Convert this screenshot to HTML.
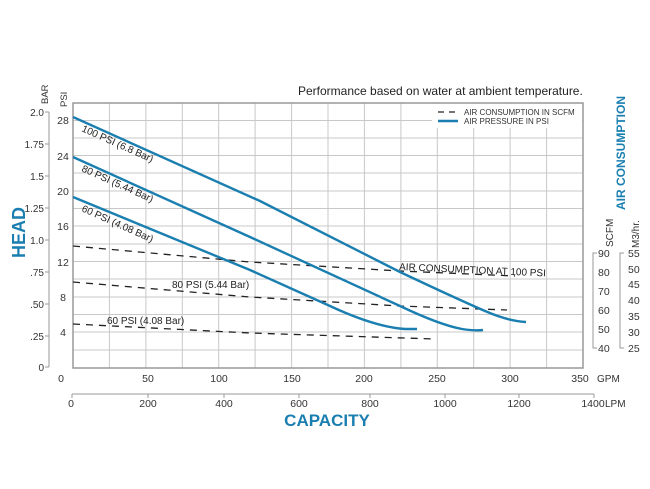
<!DOCTYPE html>
<html><head><style>
html,body{margin:0;padding:0;background:#fff;}
svg{display:block;font-family:"Liberation Sans",Arial,sans-serif;}
</style></head><body>
<svg width="650" height="489" viewBox="0 0 650 489" xmlns="http://www.w3.org/2000/svg">
<rect width="650" height="489" fill="#fff"/>
<text x="298" y="95" font-size="12" fill="#222">Performance based on water at ambient temperature.</text>
<!-- grid -->
<g stroke="#c8c8c8" stroke-width="1">
<line x1="109.4" y1="103" x2="109.4" y2="368"/><line x1="145.9" y1="103" x2="145.9" y2="368"/>
<line x1="182.3" y1="103" x2="182.3" y2="368"/><line x1="218.7" y1="103" x2="218.7" y2="368"/>
<line x1="255.1" y1="103" x2="255.1" y2="368"/><line x1="291.6" y1="103" x2="291.6" y2="368"/>
<line x1="328" y1="103" x2="328" y2="368"/><line x1="364.4" y1="103" x2="364.4" y2="368"/>
<line x1="400.9" y1="103" x2="400.9" y2="368"/><line x1="437.3" y1="103" x2="437.3" y2="368"/>
<line x1="473.7" y1="103" x2="473.7" y2="368"/><line x1="510.1" y1="103" x2="510.1" y2="368"/>
<line x1="546.6" y1="103" x2="546.6" y2="368"/>
<line x1="73" y1="120.5" x2="583" y2="120.5"/><line x1="73" y1="138" x2="583" y2="138"/>
<line x1="73" y1="155.5" x2="583" y2="155.5"/><line x1="73" y1="173" x2="583" y2="173"/>
<line x1="73" y1="191" x2="583" y2="191"/><line x1="73" y1="208.5" x2="583" y2="208.5"/>
<line x1="73" y1="226" x2="583" y2="226"/><line x1="73" y1="244" x2="583" y2="244"/>
<line x1="73" y1="261.5" x2="583" y2="261.5"/><line x1="73" y1="279" x2="583" y2="279"/>
<line x1="73" y1="297" x2="583" y2="297"/><line x1="73" y1="314.5" x2="583" y2="314.5"/>
<line x1="73" y1="332" x2="583" y2="332"/><line x1="73" y1="350" x2="583" y2="350"/>
</g>
<rect x="73" y="103" width="510" height="265" fill="none" stroke="#999" stroke-width="1.5"/>
<!-- legend -->
<rect x="432" y="104" width="150" height="24" fill="#fff"/>
<line x1="438" y1="112" x2="458" y2="112" stroke="#222" stroke-width="1.3" stroke-dasharray="6,5"/>
<text x="464" y="115" font-size="8" fill="#333">AIR CONSUMPTION IN SCFM</text>
<line x1="438" y1="121" x2="458" y2="121" stroke="#1a7fb0" stroke-width="2.5"/>
<text x="464" y="124" font-size="8" fill="#333">AIR PRESSURE IN PSI</text>
<!-- dashed air -->
<g fill="none" stroke="#222" stroke-width="1.3" stroke-dasharray="7,6">
<path d="M73,246 L250,262 L400,271 L515,276"/>
<path d="M73,282 L250,297 L400,306 L507,310"/>
<path d="M73,324 L250,333 L435,339"/>
</g>
<!-- pressure curves -->
<g fill="none" stroke="#1a7fb0" stroke-width="2.4">
<path d="M73,117 L260,201 L400,272 Q455,298 485,311 Q508,321 526,322"/>
<path d="M73,157 L250,237 L400,306 Q440,325 462,329 Q475,331 483,330"/>
<path d="M73,197 L250,270 L330,306 Q375,327 405,329 L417,329"/>
</g>
<!-- labels -->
<g font-size="10" fill="#222">
<text transform="translate(81,131) rotate(24)">100 PSI (6.8 Bar)</text>
<text transform="translate(81,171) rotate(24)">80 PSI (5.44 Bar)</text>
<text transform="translate(81,211) rotate(24)">60 PSI (4.08 Bar)</text>
<text transform="translate(399,270) rotate(2.5)">AIR CONSUMPTION AT 100 PSI</text>
<text x="172" y="288">80 PSI (5.44 Bar)</text>
<text x="107" y="324">60 PSI (4.08 Bar)</text>
</g>
<!-- left axes -->
<line x1="49" y1="112" x2="49" y2="367" stroke="#999"/>
<g stroke="#999"><line x1="45" y1="112" x2="49" y2="112"/><line x1="45" y1="144" x2="49" y2="144"/><line x1="45" y1="176" x2="49" y2="176"/><line x1="45" y1="208" x2="49" y2="208"/><line x1="45" y1="240" x2="49" y2="240"/><line x1="45" y1="272" x2="49" y2="272"/><line x1="45" y1="304" x2="49" y2="304"/><line x1="45" y1="336" x2="49" y2="336"/><line x1="45" y1="367" x2="49" y2="367"/></g>
<g font-size="10" fill="#333" text-anchor="end">
<text x="44" y="116">2.0</text><text x="44" y="148">1.75</text><text x="44" y="180">1.5</text><text x="44" y="212">1.25</text><text x="44" y="244">1.0</text><text x="44" y="276">.75</text><text x="44" y="308">.50</text><text x="44" y="340">.25</text><text x="44" y="371">0</text>
</g>
<g font-size="10.5" fill="#333" text-anchor="middle">
<text x="63" y="124">28</text><text x="63" y="160">24</text><text x="63" y="195">20</text><text x="63" y="230">16</text><text x="63" y="266">12</text><text x="63" y="301">8</text><text x="63" y="336">4</text>
</g>
<text transform="translate(48,104) rotate(-90)" font-size="9.5" fill="#333">BAR</text>
<text transform="translate(67,107) rotate(-90)" font-size="9.5" fill="#333">PSI</text>
<text transform="translate(25,258) rotate(-90)" font-size="18" font-weight="bold" fill="#1a7fb0">HEAD</text>
<!-- right axes -->
<g stroke="#999" fill="none">
<path d="M597,253 L593,253 L593,348 L597,348"/>
<path d="M624,253 L620,253 L620,348 L624,348"/>
</g>
<g font-size="10.5" fill="#333">
<text x="598" y="257">90</text><text x="598" y="276">80</text><text x="598" y="295">70</text><text x="598" y="314">60</text><text x="598" y="333">50</text><text x="598" y="352">40</text>
<text x="628" y="257">55</text><text x="628" y="273">50</text><text x="628" y="288">45</text><text x="628" y="304">40</text><text x="628" y="320">35</text><text x="628" y="336">30</text><text x="628" y="352">25</text>
</g>
<text transform="translate(613,247) rotate(-90)" font-size="10" fill="#333">SCFM</text>
<text transform="translate(639,248) rotate(-90)" font-size="10" fill="#333">M3/hr.</text>
<text transform="translate(625,210) rotate(-90)" font-size="12" font-weight="bold" fill="#1a7fb0">AIR CONSUMPTION</text>
<!-- GPM -->
<g font-size="10.5" fill="#333" text-anchor="middle">
<text x="61" y="382">0</text><text x="148" y="382">50</text><text x="219" y="382">100</text><text x="292" y="382">150</text><text x="364" y="382">200</text><text x="437" y="382">250</text><text x="510" y="382">300</text><text x="580" y="382">350</text>
</g>
<text x="597" y="382" font-size="10" fill="#333">GPM</text>
<!-- LPM -->
<line x1="72" y1="394" x2="594" y2="394" stroke="#999"/>
<g stroke="#999"><line x1="72" y1="394" x2="72" y2="398"/><line x1="148" y1="394" x2="148" y2="398"/><line x1="224" y1="394" x2="224" y2="398"/><line x1="299" y1="394" x2="299" y2="398"/><line x1="370" y1="394" x2="370" y2="398"/><line x1="445" y1="394" x2="445" y2="398"/><line x1="519" y1="394" x2="519" y2="398"/><line x1="594" y1="394" x2="594" y2="398"/></g>
<g font-size="10.5" fill="#333" text-anchor="middle">
<text x="71" y="407">0</text><text x="148" y="407">200</text><text x="224" y="407">400</text><text x="299" y="407">600</text><text x="370" y="407">800</text><text x="445" y="407">1000</text><text x="519" y="407">1200</text><text x="593" y="407">1400</text>
</g>
<text x="605" y="407" font-size="10" fill="#333">LPM</text>
<text x="327" y="426" font-size="17" font-weight="bold" fill="#1a7fb0" text-anchor="middle">CAPACITY</text>
</svg>
</body></html>
